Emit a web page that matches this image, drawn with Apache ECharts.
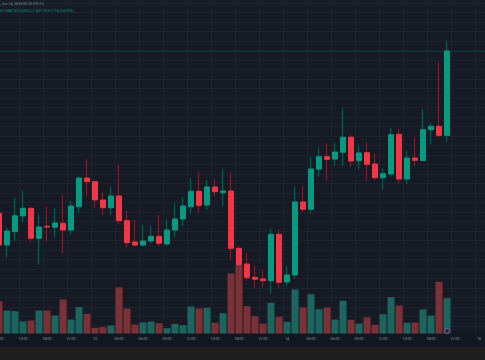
<!DOCTYPE html>
<html><head><meta charset="utf-8">
<script src="https://cdn.jsdelivr.net/npm/echarts@6/dist/echarts.min.js"></script>
<style>html,body{margin:0;padding:0;background:#161a25;}#c{width:485px;height:360px;}</style>
</head><body><div id="c"></div><script>
// hourly candles starting Jun 12 12:00
const startDay = 12, startHour = 12, slotCount = 62;
const opens  = [394.61,386.26,389.76,393.89,395.92,388.03,391.18,390.92,391.97,390.21,396.34,403.89,402.92,398.11,396.08,399.16,392.66,387.05,386.26,387.32,388.55,386.53,390.21,393.11,396.34,400.39,396.79,401.53,400.03,400.47,385.39,381.26,377.76,377.32,376.87,389.08,376.53,378.37,397.58,395.66,406.26,409.50,408.89,410.66,414.61,408.45,410.55,407.58,403.97,404.95,415.39,403.63,409.16,408.45,416.61,417.50,415.13];
const closes = [386.26,389.95,393.97,395.92,388.03,391.00,391.00,392.05,390.21,396.53,403.89,402.92,398.11,396.08,399.16,392.66,386.87,386.26,387.32,388.55,386.71,390.21,393.11,396.53,400.39,396.71,401.53,400.29,400.47,385.39,381.00,377.71,377.26,376.87,389.08,376.45,378.37,397.58,395.66,406.26,409.50,408.82,410.74,414.61,408.37,410.47,407.50,403.97,405.03,415.29,403.63,409.16,408.55,416.61,417.50,415.13,437.32];
const lows   = [385.21,383.03,387.39,392.39,387.13,381.00,387.13,388.29,384.08,388.89,394.76,399.16,395.92,394.16,394.16,391.79,385.55,386.00,385.82,386.71,386.00,386.00,388.29,391.26,394.42,394.76,395.47,398.97,396.34,382.32,379.16,376.79,375.13,375.13,373.37,374.87,375.47,377.50,395.03,394.61,404.08,403.18,407.05,407.05,406.87,406.18,403.18,403.18,400.74,404.24,402.50,402.32,407.05,408.37,412.66,414.61,413.45];
const highs  = [395.74,390.82,398.71,400.74,396.34,394.34,396.53,395.92,399.42,397.92,404.24,408.82,403.11,400.03,401.61,407.32,395.29,392.84,391.53,391.26,394.16,393.03,397.24,398.97,403.82,405.55,403.55,403.63,406.18,405.39,386.00,384.24,380.74,379.87,390.66,390.47,380.82,401.61,401.79,409.50,412.05,413.03,413.29,422.24,415.21,412.58,413.29,410.21,406.45,417.13,416.79,411.08,414.61,421.97,418.45,434.34,440.03];
const volumes = [3230,2300,2230,1200,1300,2300,2300,1800,3400,1400,2630,1970,570,630,800,4630,2500,900,1100,1200,1030,530,970,830,2700,2500,2570,1070,2030,6000,6800,2730,1730,1000,3070,1670,1170,4400,2600,3930,2430,2600,1400,3270,1370,1000,1600,870,1930,3630,2800,1070,1100,2400,1800,5170,3530];
const eventMarkers = [[56, 250]];
const headerDate = ', Jun 14, 2026 09:25 UTC+2';
const headerOHLC = '67 H440.80 L416.52 C437.78 +17.90 (+4.32%)';

const UP = '#089981', DOWN = '#f23645';
const UP_WICK = '#0c5f55', DOWN_WICK = '#7a2532';
const VOL_UP = '#1d6660', VOL_DOWN = '#7c3137';
const GRID = '#1e222d';

const cats = [];
for (let i = 0; i < slotCount; i++) {
  const t = startHour + i, h = t % 24, d = startDay + Math.floor(t / 24);
  cats.push(h === 0 ? String(d) : (h < 10 ? '0' + h : h) + ':00');
}
const showTick = (idx) => (startHour + idx) % 3 === 0;

const wickData = opens.map((o, i) => [o, closes[i], lows[i], highs[i]]);
const bodyData = opens.map((o, i) => [o, closes[i], Math.min(o, closes[i]), Math.max(o, closes[i])]);
const volData = volumes.map((v, i) => ({value: v, itemStyle: {color: closes[i] >= opens[i] ? VOL_UP : VOL_DOWN}}));

const chart = echarts.init(document.getElementById('c'), null, {renderer: 'canvas'});
chart.setOption({
  animation: false,
  backgroundColor: '#161a25',
  grid: [
    {left: -5, right: -6, top: 2.8, height: 323, containLabel: false, outerBoundsMode: 'none'},
    {left: -5, right: -6, top: 253, bottom: 26.5, containLabel: false, outerBoundsMode: 'none'}
  ],
  xAxis: [
    {type: 'category', gridIndex: 0, data: cats, boundaryGap: true,
     axisLine: {show: false}, axisTick: {show: false}, axisLabel: {show: false},
     splitLine: {show: true, interval: (i) => showTick(i), lineStyle: {color: GRID, width: 1}}},
    {type: 'category', gridIndex: 1, data: cats, boundaryGap: true,
     axisLine: {show: false}, axisTick: {show: false},
     axisLabel: {show: true, interval: (i) => showTick(i), color: '#9598a1', fontSize: 3.6,
                 fontFamily: 'Roboto', margin: 3.5, hideOverlap: false},
     splitLine: {show: true, interval: (i) => showTick(i), lineStyle: {color: GRID, width: 1}}}
  ],
  yAxis: [
    {type: 'value', gridIndex: 0, min: 365, max: 450, interval: 2.5,
     axisLine: {show: false}, axisTick: {show: false}, axisLabel: {show: false},
     splitLine: {show: true, lineStyle: {color: GRID, width: 1}}},
    {type: 'value', gridIndex: 1, min: 0, max: 8050, show: false, splitLine: {show: false}}
  ],
  graphic: [
    {type: 'rect', z: -1, shape: {x: 0, y: 333.5, width: 485, height: 13.5}, style: {fill: '#131722'}},
    {type: 'rect', z: -1, shape: {x: 0, y: 347, width: 485, height: 13}, style: {fill: '#1f1f1f'}},
    {type: 'rect', z: -1, shape: {x: 0, y: 0, width: 485, height: 7}, style: {fill: '#1a1d27'}},
    {type: 'text', z: 10, left: 0, top: 1.6, style: {text: headerDate, fill: '#8b8e97', fontSize: 3.6, fontFamily: 'Roboto'}},
    {type: 'text', z: 10, left: 0, top: 9.4, style: {text: headerOHLC, fill: UP, fontSize: 3.6, fontFamily: 'Roboto'}}
  ],
  series: [
    {type: 'bar', name: 'Volume', xAxisIndex: 1, yAxisIndex: 1, data: volData, barWidth: 7, z: 1},
    {type: 'scatter', xAxisIndex: 1, yAxisIndex: 1, data: eventMarkers, symbol: 'circle', symbolSize: 5, z: 5,
     itemStyle: {color: '#2b1733', borderColor: '#a05bbd', borderWidth: 1}},
    {type: 'candlestick', name: 'wick', xAxisIndex: 0, yAxisIndex: 0, data: wickData, barWidth: 0, z: 3,
     itemStyle: {color: UP_WICK, color0: DOWN_WICK, borderColor: UP_WICK, borderColor0: DOWN_WICK, borderWidth: 1}},
    {type: 'candlestick', name: 'price', xAxisIndex: 0, yAxisIndex: 0, data: bodyData, barWidth: 5, z: 4,
     itemStyle: {color: UP, color0: DOWN, borderColor: UP, borderColor0: DOWN, borderWidth: 1},
     markLine: {silent: true, symbol: 'none', label: {show: false},
       lineStyle: {color: UP, type: 'solid', width: 1, opacity: 0.22},
       data: [{yAxis: closes[closes.length - 1]}]}}
  ]
});
</script></body></html>
